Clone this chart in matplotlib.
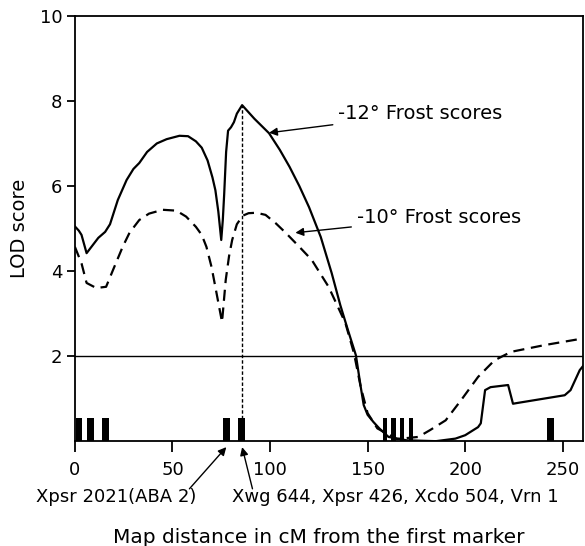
import matplotlib
matplotlib.use('Agg')
import matplotlib.pyplot as plt
import numpy as np

# -12 degree frost scores (solid)
x12 = [0, 2, 3.4, 6, 9, 12, 15.5, 18, 22, 26.5, 30, 33, 37, 42, 47, 53.6, 58, 62, 65, 68,
       70.5, 72, 73.5, 75, 75.8, 76.5, 77.5, 78.5, 80, 81.5, 83, 85.7, 92, 99.5, 105, 110,
       115, 120, 126, 131.6, 136, 140, 144, 146.5, 148, 150, 153, 156, 160.7, 170, 185,
       195, 200, 206.6, 208, 210.2, 213, 222, 224.5, 227, 251, 254, 258.7, 261]
y12 = [5.05, 4.95, 4.85, 4.42, 4.6, 4.78, 4.92, 5.1, 5.67, 6.14, 6.4, 6.54, 6.8, 7.0, 7.1,
       7.18, 7.17, 7.05, 6.9, 6.6, 6.2, 5.9, 5.4, 4.73, 5.2, 5.8, 6.8, 7.3, 7.38, 7.5, 7.7,
       7.9, 7.58, 7.24, 6.85, 6.45, 6.0, 5.5, 4.8, 3.95, 3.2, 2.6, 2.02, 1.27, 0.85, 0.62,
       0.45, 0.3, 0.1, 0.02, 0.0, 0.06, 0.14, 0.33, 0.42, 1.2, 1.27, 1.32, 0.88, 0.9, 1.08,
       1.2, 1.67, 1.8]

# -10 degree frost scores (dashed)
x10 = [0, 3.4, 6, 11, 16, 19.5, 24.5, 28, 33, 38, 45, 52, 57, 62, 65, 67.4, 70, 72.3, 75.4,
       77.3, 79, 80.6, 83, 86, 89, 93, 97.7, 103, 108, 115, 121.4, 130, 138.6, 143, 146.5,
       150, 155, 165, 176, 182, 190, 198, 206.6, 215, 223.5, 240.8, 261]
y10 = [4.57, 4.18, 3.72, 3.6, 3.63, 4.02, 4.57, 4.9, 5.2, 5.35, 5.44, 5.42, 5.28, 5.04, 4.85,
       4.57, 4.1, 3.55, 2.8, 3.79, 4.35, 4.73, 5.1, 5.3, 5.36, 5.37, 5.32, 5.12, 4.9, 4.57,
       4.26, 3.63, 2.78, 2.07, 1.27, 0.66, 0.3, 0.05, 0.1, 0.26, 0.49, 0.97, 1.51, 1.9, 2.1,
       2.26, 2.42]

# marker positions on the map
marker_x = [2, 8, 15.8, 77.7, 85.3, 159, 163.3, 167.8, 172.3, 243.7]
marker_w = [3.3, 3.3, 3.3, 3.3, 3.3, 2.2, 2.2, 2.2, 2.2, 3.3]
marker_h = 0.55

peak_x = 85.7
peak_y = 7.9
threshold = 2

plt.rcParams['font.family'] = 'DejaVu Sans'

fig = plt.figure(figsize=(5.85, 5.46), dpi=100)
ax = fig.add_axes([0.128, 0.192, 0.869, 0.779])

ax.plot(x12, y12, color='black', linewidth=1.6)
ax.plot(x10, y10, color='black', linewidth=1.6, linestyle=(0, (5, 3)))
ax.bar(marker_x, marker_h, width=marker_w, color='black', align='center')
ax.axhline(threshold, color='black', linewidth=1)
ax.plot([peak_x, peak_x], [0, peak_y], color='black', linewidth=1, linestyle=(0, (2.5, 1.5)))

ax.set_xlim(0, 260.5)
ax.set_ylim(0, 10)
ax.set_xticks([0, 50, 100, 150, 200, 250])
ax.set_yticks([2, 4, 6, 8, 10])
ax.tick_params(axis='x', direction='out', length=8, width=1.3, labelsize=13, pad=6)
ax.tick_params(axis='y', direction='out', length=6, width=1.3, labelsize=13, pad=3)
for s in ax.spines.values():
    s.set_linewidth(1.3)

ax.set_ylabel('LOD score', fontsize=14, labelpad=8)
ax.text(125, -2.26, 'Map distance in cM from the first marker', fontsize=14.5,
        ha='center', va='center', clip_on=False)

arrow = dict(arrowstyle='-|>', color='black', lw=1, mutation_scale=12, shrinkA=2, shrinkB=0)
ax.annotate('-12° Frost scores', xy=(99.5, 7.25), xytext=(135, 7.7),
            fontsize=14, va='center', ha='left', arrowprops=arrow)
ax.annotate('-10° Frost scores', xy=(113, 4.9), xytext=(144.5, 5.25),
            fontsize=14, va='center', ha='left', arrowprops=arrow)

# marker names below the axis
ax.text(21.4, -1.32, 'Xpsr 2021(ABA 2)', fontsize=13, ha='center', va='center', clip_on=False)
ax.text(80.6, -1.32, 'Xwg 644, Xpsr 426, Xcdo 504, Vrn 1', fontsize=13, ha='left',
        va='center', clip_on=False)
arrow2 = dict(arrowstyle='-|>', color='black', lw=1, mutation_scale=12, shrinkA=0, shrinkB=0)
ax.annotate('', xy=(77.6, -0.14), xytext=(58.7, -1.12), annotation_clip=False, arrowprops=arrow2)
ax.annotate('', xy=(85.7, -0.14), xytext=(91, -1.12), annotation_clip=False, arrowprops=arrow2)

fig.savefig('out.png', dpi=100)
